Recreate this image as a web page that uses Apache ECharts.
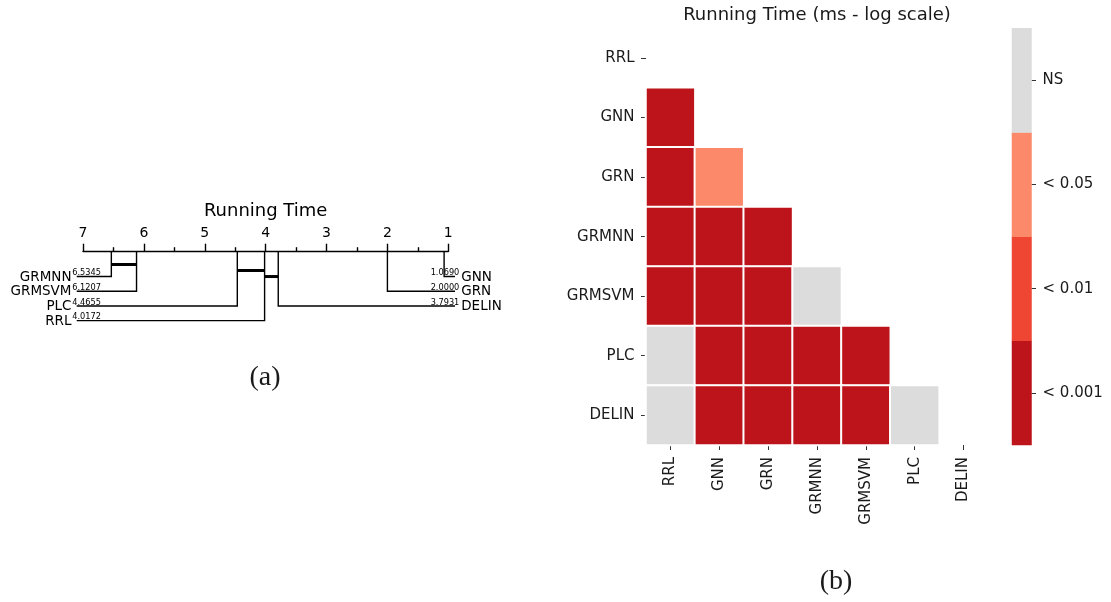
<!DOCTYPE html>
<html>
<head>
<meta charset="utf-8">
<title>Running Time</title>
<script src="https://cdn.jsdelivr.net/npm/echarts@6/dist/echarts.min.js"></script>
<style>
  html, body { margin: 0; padding: 0; background: #fff; }
  #chart { width: 1111px; height: 602px; }
</style>
</head>
<body>
<div id="chart"></div>
<script>
// ---- Critical difference diagram (average ranks) ----
const cdMethods = ['GRMNN', 'GRMSVM', 'PLC', 'RRL', 'DELIN', 'GRN', 'GNN'];
const cdRanks   = [6.5345, 6.1207, 4.4655, 4.0172, 3.7931, 2.0000, 1.0690];
// groups of methods that are not significantly different
const cdCliques = [['GRMNN', 'GRMSVM'], ['PLC', 'RRL'], ['RRL', 'DELIN']];
const rankTicks = [1, 2, 3, 4, 5, 6, 7];

// ---- Pairwise significance heatmap ----
const methods = ['RRL', 'GNN', 'GRN', 'GRMNN', 'GRMSVM', 'PLC', 'DELIN'];
const levels = ['< 0.001', '< 0.01', '< 0.05', 'NS'];
const levelColors = ['#bc141a', '#ef4533', '#fc8a6a', '#dcdcdc'];
// lower triangle, row i lists the level index against methods[0..i-1]
const sigLowerTriangle = [
  [],
  [0],
  [0, 2],
  [0, 0, 0],
  [0, 0, 0, 3],
  [3, 0, 0, 0, 0],
  [3, 0, 0, 0, 0, 3]
];

const FONT = 'DejaVu Sans';
const SERIF = 'Liberation Serif';
const TEXT = '#1a1a1a';

// layout of the CD diagram, in row units below the rank axis
const ROW_PX = 14.7;
const ROW0 = 1.69;
const CLIQUE0 = 0.87;
const CLIQUE_STEP = 0.41;
const CD_ROWS = 5;

const nLeft = Math.ceil(cdMethods.length / 2);
const cdData = cdMethods.map((m, i) => {
  const left = i < nLeft;
  const row = left ? i : cdMethods.length - 1 - i;
  return { name: m, value: [cdRanks[i], row, left ? 0 : 1] };
});
const cliqueData = cdCliques.map((c, k) => {
  const a = cdRanks[cdMethods.indexOf(c[0])];
  const b = cdRanks[cdMethods.indexOf(c[1])];
  return { value: [a, b, k] };
});

function renderMethod(params, api) {
  const rank = api.value(0);
  const row = api.value(1);
  const left = api.value(2) === 0;
  const top = api.coord([rank, 0]);
  const y = api.coord([rank, ROW0 + row])[1];
  const endX = left ? api.coord([rankTicks[rankTicks.length - 1], 0])[0] - 6.3
                    : api.coord([rankTicks[0], 0])[0] + 6.7;
  const name = cdMethods[params.dataIndex];
  const rankText = rank.toFixed(4);
  return {
    type: 'group',
    children: [
      {
        type: 'polyline',
        shape: { points: [[top[0], top[1]], [top[0], y], [endX, y]] },
        style: { stroke: '#000', lineWidth: 1.4, fill: null }
      },
      {
        type: 'text',
        style: {
          x: left ? endX - 5.2 : endX + 6.2, y: y + 0.5,
          text: name, align: left ? 'right' : 'left', verticalAlign: 'middle',
          fontFamily: FONT, fontSize: 13.5, fill: '#000'
        }
      },
      {
        type: 'text',
        style: {
          x: left ? endX - 4.4 : endX + 4.3, y: y + 0.5,
          text: rankText, align: left ? 'left' : 'right', verticalAlign: 'bottom',
          fontFamily: FONT, fontSize: 8.2, fill: '#000'
        }
      }
    ]
  };
}

function renderClique(params, api) {
  const k = api.value(2);
  const yv = CLIQUE0 + k * CLIQUE_STEP;
  const p1 = api.coord([api.value(0), yv]);
  const p2 = api.coord([api.value(1), yv]);
  return {
    type: 'line',
    shape: { x1: p1[0], y1: p1[1], x2: p2[0], y2: p2[1] },
    style: { stroke: '#000', lineWidth: 3 }
  };
}

const heatData = [];
sigLowerTriangle.forEach((row, r) => {
  row.forEach((lvl, c) => heatData.push([c, r, lvl]));
});
const barData = levels.map((l, i) => [0, i, i]);

const chart = echarts.init(document.getElementById('chart'), null, { renderer: 'canvas' });

chart.setOption({
  animation: false,
  backgroundColor: '#fff',
  textStyle: { fontFamily: FONT },
  title: [
    {
      text: 'Running Time (ms - log scale)',
      left: 817, top: 6, textAlign: 'center', padding: 0,
      textStyle: { fontFamily: FONT, fontSize: 18, fontWeight: 'normal', color: TEXT }
    },
    {
      text: '(a)',
      left: 265, top: 364, textAlign: 'center', padding: 0,
      textStyle: { fontFamily: SERIF, fontSize: 28, fontWeight: 'normal', color: TEXT }
    },
    {
      text: '(b)',
      left: 836, top: 568, textAlign: 'center', padding: 0,
      textStyle: { fontFamily: SERIF, fontSize: 28, fontWeight: 'normal', color: TEXT }
    }
  ],
  grid: [
    { left: 83, top: 251.7, width: 365.3, height: CD_ROWS * ROW_PX },
    { left: 646, top: 28.3, width: 342, height: 416.7 },
    { left: 1012, top: 28.3, width: 19.5, height: 416.7 }
  ],
  xAxis: [
    {
      gridIndex: 0, type: 'value', min: rankTicks[0], max: rankTicks[rankTicks.length - 1],
      interval: 1, inverse: true, position: 'top',
      name: 'Running Time', nameLocation: 'middle', nameGap: 31,
      nameTextStyle: { fontFamily: FONT, fontSize: 18, color: '#000' },
      axisLine: { show: true, onZero: false, lineStyle: { color: '#000', width: 1.4 } },
      axisTick: { show: true, length: 8, lineStyle: { color: '#000', width: 1.4 } },
      minorTick: { show: true, splitNumber: 2, length: 4.5, lineStyle: { color: '#000', width: 1.4 } },
      axisLabel: { fontFamily: FONT, fontSize: 14, color: '#000', margin: 11 },
      splitLine: { show: false }
    },
    {
      gridIndex: 1, type: 'category', data: methods, position: 'bottom',
      axisLine: { show: false },
      axisTick: { show: true, length: 5, alignWithLabel: true, lineStyle: { color: '#333', width: 1 } },
      axisLabel: { rotate: 90, fontFamily: FONT, fontSize: 15, color: TEXT, margin: 12 },
      splitLine: { show: false }
    },
    {
      gridIndex: 2, type: 'category', data: [''], show: false
    }
  ],
  yAxis: [
    {
      gridIndex: 0, type: 'value', min: 0, max: CD_ROWS, inverse: true, show: false
    },
    {
      gridIndex: 1, type: 'category', data: methods, inverse: true,
      axisLine: { show: false },
      axisTick: { show: true, length: 5, alignWithLabel: true, lineStyle: { color: '#333', width: 1 } },
      axisLabel: { fontFamily: FONT, fontSize: 15, color: TEXT, margin: 11.5 },
      splitLine: { show: false }
    },
    {
      gridIndex: 2, type: 'category', data: levels, position: 'right',
      axisLine: { show: false },
      axisTick: { show: true, length: 4.5, alignWithLabel: true, lineStyle: { color: '#333', width: 1 } },
      axisLabel: { fontFamily: FONT, fontSize: 15, color: TEXT, margin: 11 },
      splitLine: { show: false }
    }
  ],
  visualMap: {
    type: 'piecewise', show: false, dimension: 2, seriesIndex: [2, 3],
    pieces: levels.map((l, i) => ({ value: i, color: levelColors[i] }))
  },
  series: [
    {
      type: 'custom', xAxisIndex: 0, yAxisIndex: 0, clip: false,
      renderItem: renderMethod, data: cdData, silent: true
    },
    {
      type: 'custom', xAxisIndex: 0, yAxisIndex: 0, clip: false,
      renderItem: renderClique, data: cliqueData, silent: true
    },
    {
      type: 'heatmap', xAxisIndex: 1, yAxisIndex: 1, data: heatData,
      itemStyle: { borderColor: '#fff', borderWidth: 2 },
      emphasis: { disabled: true }, silent: true
    },
    {
      type: 'heatmap', xAxisIndex: 2, yAxisIndex: 2, data: barData,
      itemStyle: { borderWidth: 0 },
      emphasis: { disabled: true }, silent: true
    }
  ]
});
</script>
</body>
</html>
